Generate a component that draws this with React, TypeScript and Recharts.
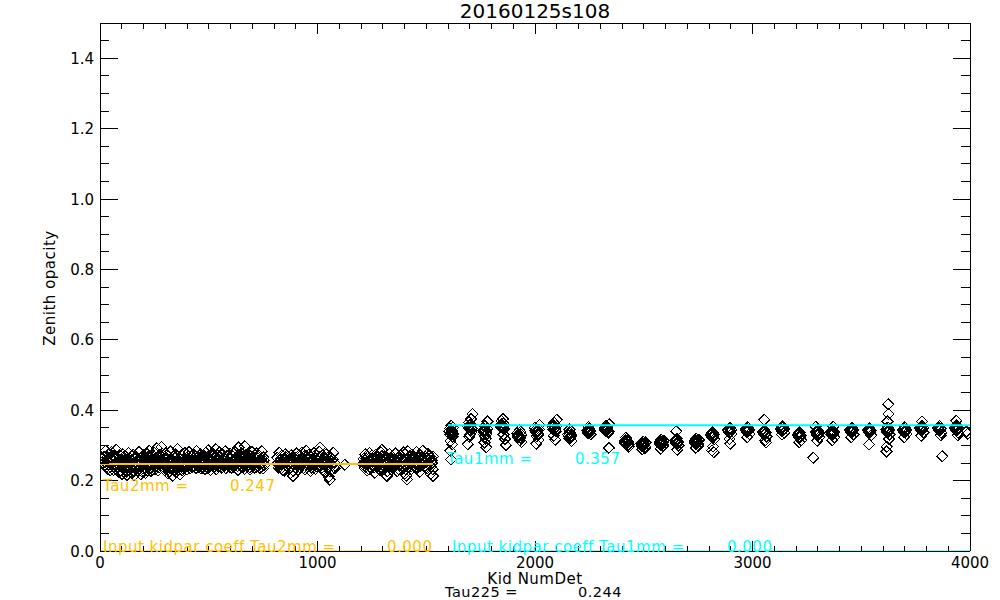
import { ScatterChart, Scatter, XAxis, YAxis } from "recharts";

// 2mm array (Tau2mm), three blocks of kids: [NumDet, zenith opacity]
const tau2mmBlockA: [number, number][] = [
  [20, 0.268], [24, 0.245], [27, 0.285], [31, 0.258], [35, 0.234], [38, 0.275], [42, 0.251], [46, 0.264],
  [49, 0.239], [53, 0.281], [57, 0.256], [61, 0.23], [64, 0.27], [68, 0.247], [72, 0.262], [75, 0.288],
  [79, 0.241], [83, 0.254], [87, 0.225], [90, 0.272], [94, 0.249], [98, 0.261], [101, 0.219], [105, 0.275],
  [109, 0.242], [112, 0.257], [116, 0.231], [120, 0.268], [124, 0.216], [127, 0.252], [131, 0.279], [135, 0.237],
  [138, 0.263], [142, 0.223], [146, 0.256], [150, 0.245], [153, 0.274], [157, 0.215], [161, 0.26], [164, 0.24],
  [168, 0.267], [172, 0.228], [176, 0.253], [179, 0.281], [183, 0.244], [187, 0.218], [190, 0.265], [194, 0.25],
  [198, 0.234], [201, 0.272], [205, 0.257], [209, 0.222], [212, 0.246], [216, 0.276], [220, 0.261], [224, 0.239],
  [227, 0.285], [231, 0.251], [235, 0.227], [238, 0.269], [242, 0.255], [246, 0.243], [250, 0.279], [253, 0.232],
  [257, 0.264], [261, 0.292], [264, 0.248], [268, 0.259], [272, 0.237], [276, 0.273], [279, 0.252], [283, 0.296],
  [287, 0.241], [290, 0.266], [294, 0.254], [298, 0.229], [302, 0.277], [305, 0.245], [309, 0.261], [313, 0.22],
  [316, 0.27], [320, 0.249], [324, 0.283], [328, 0.235], [331, 0.258], [335, 0.214], [339, 0.268], [342, 0.244],
  [346, 0.275], [350, 0.224], [354, 0.256], [357, 0.29], [361, 0.24], [365, 0.263], [368, 0.217], [372, 0.251],
  [376, 0.272], [380, 0.235], [383, 0.26], [387, 0.247], [391, 0.278], [394, 0.239], [398, 0.265], [402, 0.253],
  [406, 0.242], [409, 0.281], [413, 0.258], [417, 0.236], [420, 0.269], [424, 0.249], [428, 0.275], [432, 0.262],
  [435, 0.241], [439, 0.254], [443, 0.284], [446, 0.246], [450, 0.267], [454, 0.239], [458, 0.259], [461, 0.275],
  [465, 0.25], [469, 0.263], [472, 0.237], [476, 0.271], [480, 0.255], [484, 0.244], [487, 0.279], [491, 0.262],
  [495, 0.235], [498, 0.286], [502, 0.253], [506, 0.268], [510, 0.242], [513, 0.259], [517, 0.277], [521, 0.248],
  [524, 0.265], [528, 0.239], [532, 0.289], [536, 0.256], [539, 0.245], [543, 0.271], [547, 0.252], [550, 0.28],
  [554, 0.238], [558, 0.263], [562, 0.249], [565, 0.274], [569, 0.257], [573, 0.241], [576, 0.283], [580, 0.26],
  [584, 0.246], [588, 0.269], [591, 0.253], [595, 0.239], [599, 0.276], [602, 0.262], [606, 0.248], [610, 0.27],
  [613, 0.24], [617, 0.258], [621, 0.281], [625, 0.251], [628, 0.265], [632, 0.242], [636, 0.294], [640, 0.256],
  [643, 0.271], [647, 0.247], [651, 0.277], [654, 0.259], [658, 0.239], [662, 0.267], [666, 0.298], [669, 0.25],
  [673, 0.262], [677, 0.242], [680, 0.275], [684, 0.255], [688, 0.238], [692, 0.27], [695, 0.249], [699, 0.281],
  [703, 0.26], [706, 0.245], [710, 0.273], [714, 0.254], [718, 0.239], [721, 0.278], [725, 0.263], [729, 0.248],
  [732, 0.271], [736, 0.236], [740, 0.259], [744, 0.283], [747, 0.251], [751, 0.266], [755, 0.244],
  [22, 0.252], [29, 0.238], [33, 0.266], [40, 0.244], [47, 0.229], [51, 0.259], [58, 0.27], [63, 0.241],
  [66, 0.255], [73, 0.233], [77, 0.262], [81, 0.248], [85, 0.239], [92, 0.258], [96, 0.228], [103, 0.247],
  [107, 0.266], [114, 0.236], [118, 0.251], [122, 0.226], [129, 0.243], [133, 0.258], [140, 0.233], [144, 0.249],
  [148, 0.222], [155, 0.238], [159, 0.265], [166, 0.231], [170, 0.247], [174, 0.26], [181, 0.235], [185, 0.25],
  [192, 0.226], [196, 0.243], [203, 0.261], [207, 0.236], [214, 0.253], [218, 0.229], [222, 0.268], [229, 0.245],
  [233, 0.258], [240, 0.232], [244, 0.271], [248, 0.25], [255, 0.24], [259, 0.262], [266, 0.229], [270, 0.253],
  [274, 0.266], [281, 0.244], [285, 0.259], [292, 0.233], [296, 0.248], [300, 0.262], [307, 0.238], [311, 0.253],
  [318, 0.227], [322, 0.246], [326, 0.262], [333, 0.24], [337, 0.252], [344, 0.23], [348, 0.265], [352, 0.243],
  [359, 0.256], [363, 0.232], [370, 0.262], [374, 0.245], [378, 0.229], [385, 0.254], [389, 0.237], [396, 0.258],
  [400, 0.231], [404, 0.268], [411, 0.247], [415, 0.235], [422, 0.26], [426, 0.24], [430, 0.254], [437, 0.268],
  [441, 0.236], [448, 0.258], [452, 0.244], [456, 0.272], [463, 0.235], [467, 0.256], [474, 0.245], [478, 0.262],
  [482, 0.233], [489, 0.252], [493, 0.267], [500, 0.242], [504, 0.258], [508, 0.23], [515, 0.27], [519, 0.25],
  [526, 0.263], [530, 0.245], [534, 0.232], [541, 0.26], [545, 0.24], [552, 0.266], [556, 0.25], [560, 0.236],
  [567, 0.264], [571, 0.248], [578, 0.235], [582, 0.27], [586, 0.255], [593, 0.242], [597, 0.26], [604, 0.237],
  [608, 0.254], [612, 0.268], [619, 0.244], [623, 0.262], [630, 0.25], [634, 0.23], [638, 0.272], [645, 0.258],
  [649, 0.241], [656, 0.266], [660, 0.25], [664, 0.233], [671, 0.274], [675, 0.255], [682, 0.244], [686, 0.262],
  [690, 0.232], [697, 0.258], [701, 0.246], [708, 0.265], [712, 0.236], [716, 0.25], [723, 0.27], [727, 0.24],
  [734, 0.257], [738, 0.247], [742, 0.264], [749, 0.234], [753, 0.258],
];

const tau2mmBlockB: [number, number][] = [
  [816, 0.265], [820, 0.244], [824, 0.279], [828, 0.257], [832, 0.234], [836, 0.271], [840, 0.25], [844, 0.262],
  [848, 0.228], [852, 0.275], [856, 0.253], [860, 0.24], [864, 0.268], [868, 0.246], [872, 0.26], [876, 0.222],
  [880, 0.272], [884, 0.249], [888, 0.213], [892, 0.264], [896, 0.255], [900, 0.238], [904, 0.277], [908, 0.251],
  [912, 0.231], [916, 0.267], [920, 0.258], [924, 0.244], [928, 0.28], [932, 0.254], [936, 0.236], [940, 0.269],
  [944, 0.247], [948, 0.285], [952, 0.261], [956, 0.241], [960, 0.273], [964, 0.252], [968, 0.227], [972, 0.266],
  [976, 0.256], [980, 0.245], [984, 0.278], [988, 0.25], [992, 0.233], [996, 0.27], [1000, 0.259], [1004, 0.242],
  [1008, 0.282], [1012, 0.294], [1016, 0.253], [1020, 0.237], [1024, 0.272], [1028, 0.248], [1032, 0.263], [1036, 0.225],
  [1040, 0.275], [1044, 0.251], [1048, 0.24], [1052, 0.211], [1056, 0.203], [1060, 0.266], [1064, 0.256], [1068, 0.243],
  [1072, 0.279], [1076, 0.252], [1080, 0.235], [1126, 0.245],
  [818, 0.25], [822, 0.236], [830, 0.262], [834, 0.246], [842, 0.23], [846, 0.257], [854, 0.266], [858, 0.243],
  [866, 0.255], [870, 0.235], [878, 0.26], [882, 0.24], [890, 0.227], [894, 0.252], [902, 0.265], [906, 0.244],
  [914, 0.256], [918, 0.238], [926, 0.262], [930, 0.248], [938, 0.258], [942, 0.232], [950, 0.27], [954, 0.25],
  [962, 0.262], [966, 0.242], [974, 0.236], [978, 0.26], [986, 0.246], [990, 0.264], [998, 0.24], [1002, 0.255],
  [1010, 0.266], [1014, 0.245], [1022, 0.23], [1026, 0.258], [1034, 0.248], [1038, 0.262], [1046, 0.236], [1050, 0.255],
  [1058, 0.226], [1062, 0.245], [1070, 0.26], [1074, 0.238], [1078, 0.25],
];

const tau2mmBlockC: [number, number][] = [
  [1211, 0.261], [1215, 0.242], [1219, 0.275], [1223, 0.252], [1227, 0.229], [1231, 0.267], [1235, 0.248], [1239, 0.279],
  [1243, 0.256], [1247, 0.235], [1251, 0.271], [1255, 0.244], [1259, 0.262], [1263, 0.222], [1267, 0.273], [1271, 0.251],
  [1275, 0.239], [1279, 0.266], [1283, 0.257], [1287, 0.245], [1291, 0.281], [1295, 0.288], [1299, 0.253], [1303, 0.234],
  [1307, 0.269], [1311, 0.249], [1315, 0.215], [1319, 0.213], [1323, 0.263], [1327, 0.242], [1331, 0.276], [1335, 0.254],
  [1339, 0.231], [1343, 0.268], [1347, 0.247], [1351, 0.26], [1355, 0.239], [1359, 0.277], [1363, 0.252], [1367, 0.226],
  [1371, 0.265], [1375, 0.244], [1379, 0.257], [1383, 0.271], [1387, 0.235], [1391, 0.25], [1395, 0.28], [1399, 0.262],
  [1403, 0.22], [1407, 0.241], [1411, 0.203], [1415, 0.283], [1419, 0.255], [1423, 0.269], [1427, 0.247], [1431, 0.232],
  [1435, 0.274], [1439, 0.258], [1443, 0.242], [1447, 0.266], [1451, 0.251], [1455, 0.281], [1459, 0.237], [1463, 0.263],
  [1467, 0.254], [1471, 0.225], [1475, 0.272], [1479, 0.246], [1483, 0.285], [1487, 0.259], [1491, 0.24], [1495, 0.268],
  [1499, 0.252], [1503, 0.234], [1507, 0.276], [1511, 0.261], [1515, 0.244], [1519, 0.219], [1523, 0.265], [1527, 0.25],
  [1531, 0.269], [1531, 0.213],
  [1213, 0.25], [1217, 0.236], [1225, 0.262], [1229, 0.246], [1237, 0.232], [1241, 0.258], [1249, 0.244], [1253, 0.262],
  [1261, 0.238], [1265, 0.255], [1273, 0.266], [1277, 0.245], [1285, 0.232], [1289, 0.26], [1297, 0.27], [1301, 0.244],
  [1309, 0.258], [1313, 0.236], [1321, 0.226], [1325, 0.252], [1333, 0.242], [1337, 0.265], [1345, 0.255], [1349, 0.235],
  [1357, 0.26], [1361, 0.244], [1369, 0.25], [1373, 0.232], [1381, 0.262], [1385, 0.248], [1393, 0.238], [1397, 0.258],
  [1405, 0.232], [1409, 0.214], [1413, 0.262], [1417, 0.246], [1425, 0.258], [1429, 0.24], [1437, 0.25], [1441, 0.266],
  [1449, 0.236], [1453, 0.26], [1461, 0.248], [1465, 0.27], [1473, 0.242], [1477, 0.258], [1485, 0.265], [1489, 0.25],
  [1497, 0.236], [1501, 0.262], [1509, 0.248], [1513, 0.268], [1521, 0.24], [1525, 0.256], [1529, 0.232],
];

// 1mm array (Tau1mm), kids come in small groups
const tau1mmKids: [number, number][] = [
  [1608, 0.348], [1612, 0.335], [1615, 0.356], [1618, 0.343], [1621, 0.325], [1624, 0.351], [1612, 0.313], [1619, 0.303], [1610, 0.285], [1614, 0.26],
  [1606, 0.34], [1610, 0.33], [1614, 0.345], [1617, 0.336], [1620, 0.34], [1623, 0.332],
  [1692, 0.353], [1696, 0.365], [1700, 0.346], [1704, 0.359], [1708, 0.338], [1712, 0.389], [1698, 0.325], [1690, 0.303], [1706, 0.375],
  [1694, 0.35], [1698, 0.357], [1702, 0.352], [1705, 0.343], [1709, 0.348], [1700, 0.33],
  [1762, 0.343], [1766, 0.331], [1770, 0.355], [1774, 0.319], [1778, 0.338], [1782, 0.368], [1768, 0.308], [1775, 0.295],
  [1764, 0.337], [1768, 0.345], [1772, 0.34], [1776, 0.332], [1780, 0.347], [1770, 0.325],
  [1842, 0.358], [1846, 0.37], [1850, 0.351], [1854, 0.363], [1858, 0.345], [1852, 0.375], [1862, 0.318], [1866, 0.301], [1856, 0.331],
  [1844, 0.352], [1848, 0.36], [1852, 0.355], [1856, 0.348], [1860, 0.358],
  [1918, 0.335], [1922, 0.323], [1926, 0.329], [1930, 0.315], [1934, 0.338], [1938, 0.309], [1928, 0.344],
  [1920, 0.33], [1924, 0.325], [1928, 0.335], [1932, 0.322], [1936, 0.33],
  [2000, 0.35], [2004, 0.338], [2008, 0.326], [2012, 0.344], [2016, 0.315], [2020, 0.358], [2006, 0.305], [2014, 0.332],
  [2002, 0.343], [2006, 0.335], [2010, 0.34], [2014, 0.33], [2018, 0.345],
  [2080, 0.358], [2084, 0.346], [2088, 0.364], [2092, 0.351], [2096, 0.34], [2100, 0.373], [2086, 0.328], [2094, 0.316],
  [2082, 0.352], [2086, 0.357], [2090, 0.348], [2094, 0.344], [2098, 0.355],
  [2152, 0.331], [2156, 0.319], [2160, 0.338], [2164, 0.325], [2168, 0.313], [2158, 0.345],
  [2154, 0.326], [2158, 0.333], [2162, 0.32], [2166, 0.329],
  [2240, 0.343], [2244, 0.335], [2248, 0.348], [2252, 0.34], [2256, 0.332], [2246, 0.352],
  [2242, 0.34], [2246, 0.344], [2250, 0.336], [2254, 0.342],
  [2320, 0.35], [2324, 0.342], [2328, 0.356], [2332, 0.346], [2336, 0.336], [2342, 0.36], [2340, 0.293],
  [2322, 0.347], [2326, 0.351], [2330, 0.342], [2334, 0.349], [2338, 0.34],
  [2412, 0.313], [2416, 0.305], [2420, 0.318], [2424, 0.301], [2428, 0.31], [2432, 0.296], [2418, 0.323],
  [2414, 0.31], [2418, 0.314], [2422, 0.306], [2426, 0.312], [2430, 0.302],
  [2488, 0.305], [2492, 0.297], [2496, 0.311], [2500, 0.3], [2504, 0.292], [2508, 0.308], [2494, 0.289],
  [2490, 0.302], [2494, 0.306], [2498, 0.298], [2502, 0.304], [2506, 0.296],
  [2572, 0.31], [2576, 0.302], [2580, 0.316], [2584, 0.305], [2588, 0.297], [2592, 0.313], [2578, 0.291],
  [2574, 0.306], [2578, 0.31], [2582, 0.302], [2586, 0.308], [2590, 0.3],
  [2644, 0.313], [2648, 0.305], [2652, 0.319], [2656, 0.308], [2660, 0.3], [2650, 0.34], [2654, 0.288],
  [2646, 0.31], [2650, 0.314], [2654, 0.305], [2658, 0.31],
  [2734, 0.313], [2738, 0.305], [2742, 0.319], [2746, 0.309], [2750, 0.299], [2754, 0.315], [2740, 0.293],
  [2736, 0.31], [2740, 0.314], [2744, 0.305], [2748, 0.31], [2752, 0.304],
  [2808, 0.331], [2812, 0.323], [2816, 0.337], [2820, 0.327], [2824, 0.318], [2818, 0.297], [2814, 0.285], [2822, 0.281],
  [2810, 0.328], [2814, 0.332], [2818, 0.324], [2822, 0.33],
  [2888, 0.345], [2892, 0.337], [2896, 0.35], [2900, 0.341], [2904, 0.332], [2894, 0.318], [2898, 0.305],
  [2890, 0.342], [2894, 0.346], [2898, 0.338], [2902, 0.344],
  [2970, 0.346], [2974, 0.338], [2978, 0.351], [2982, 0.342], [2986, 0.332], [2976, 0.323],
  [2972, 0.342], [2976, 0.347], [2980, 0.34], [2984, 0.345],
  [3048, 0.338], [3052, 0.331], [3056, 0.344], [3060, 0.335], [3064, 0.325], [3054, 0.373], [3058, 0.315], [3062, 0.309],
  [3050, 0.335], [3054, 0.34], [3058, 0.332], [3062, 0.337],
  [3130, 0.348], [3134, 0.341], [3138, 0.354], [3142, 0.345], [3146, 0.336], [3136, 0.331],
  [3132, 0.345], [3136, 0.35], [3140, 0.342], [3144, 0.347],
  [3208, 0.331], [3212, 0.323], [3216, 0.337], [3220, 0.325], [3224, 0.315], [3214, 0.309],
  [3210, 0.328], [3214, 0.332], [3218, 0.322], [3222, 0.329],
  [3292, 0.338], [3296, 0.33], [3300, 0.343], [3304, 0.333], [3308, 0.323], [3298, 0.313], [3290, 0.353], [3280, 0.265],
  [3294, 0.335], [3298, 0.34], [3302, 0.33], [3306, 0.336],
  [3360, 0.339], [3364, 0.331], [3368, 0.344], [3372, 0.353], [3376, 0.323], [3366, 0.315],
  [3362, 0.336], [3366, 0.341], [3370, 0.332], [3374, 0.338],
  [3448, 0.345], [3452, 0.337], [3456, 0.35], [3460, 0.341], [3464, 0.331], [3454, 0.323],
  [3450, 0.342], [3454, 0.346], [3458, 0.338], [3462, 0.344],
  [3530, 0.345], [3534, 0.337], [3538, 0.35], [3542, 0.34], [3546, 0.329], [3536, 0.303],
  [3532, 0.342], [3536, 0.346], [3540, 0.338], [3544, 0.343],
  [3614, 0.346], [3618, 0.338], [3622, 0.351], [3626, 0.341], [3630, 0.331], [3624, 0.417], [3626, 0.389], [3620, 0.368], [3618, 0.296], [3616, 0.283], [3628, 0.318],
  [3616, 0.343], [3620, 0.347], [3624, 0.339], [3628, 0.344],
  [3692, 0.346], [3696, 0.338], [3700, 0.351], [3704, 0.342], [3708, 0.332], [3698, 0.323],
  [3694, 0.343], [3698, 0.347], [3702, 0.339], [3706, 0.344],
  [3770, 0.351], [3774, 0.343], [3778, 0.356], [3782, 0.347], [3786, 0.337], [3780, 0.368], [3776, 0.328],
  [3772, 0.348], [3776, 0.352], [3780, 0.344], [3784, 0.35],
  [3852, 0.35], [3856, 0.343], [3860, 0.355], [3864, 0.346], [3868, 0.336], [3872, 0.269], [3866, 0.329],
  [3854, 0.347], [3858, 0.351], [3862, 0.343], [3866, 0.348],
  [3930, 0.351], [3934, 0.343], [3938, 0.356], [3942, 0.347], [3946, 0.336], [3936, 0.37], [3944, 0.329],
  [3932, 0.348], [3936, 0.352], [3940, 0.344], [3944, 0.35],
  [3984, 0.34], [3990, 0.333],
];

// fitted levels and kidpar coefficients
const tau2mm = 0.247;
const tau1mm = 0.357;
const tau225 = 0.244;
const kidparTau2mm = 0.0;
const kidparTau1mm = 0.0;
const tau2mmRange = [0, 1531];
const tau1mmRange = [1600, 4000];

const xTicks = [
  0, 100, 200, 300, 400, 500, 600, 700, 800, 900, 1000, 1100, 1200, 1300, 1400, 1500, 1600, 1700, 1800, 1900, 2000,
  2100, 2200, 2300, 2400, 2500, 2600, 2700, 2800, 2900, 3000, 3100, 3200, 3300, 3400, 3500, 3600, 3700, 3800, 3900, 4000,
];
const xMajorTicks = [0, 1000, 2000, 3000, 4000];
const xTickLabels = ["0", "1000", "2000", "3000", "4000"];

const yTicks = [
  0, 0.05, 0.1, 0.15, 0.2, 0.25, 0.3, 0.35, 0.4, 0.45, 0.5, 0.55, 0.6, 0.65, 0.7, 0.75, 0.8, 0.85, 0.9, 0.95, 1.0,
  1.05, 1.1, 1.15, 1.2, 1.25, 1.3, 1.35, 1.4, 1.45, 1.5,
];
const yMajorTicks = [0, 0.2, 0.4, 0.6, 0.8, 1.0, 1.2, 1.4];
const yTickLabels = ["0.0", "0.2", "0.4", "0.6", "0.8", "1.0", "1.2", "1.4"];

const ORANGE = "#FFC000";
const CYAN = "#00FFFF";
const FONT = "'DejaVu Sans', sans-serif";

const toPoints = (arr: [number, number][]) => arr.map(([x, y]) => ({ x, y }));
const kids2mm = [...toPoints(tau2mmBlockA), ...toPoints(tau2mmBlockB), ...toPoints(tau2mmBlockC)];
const kids1mm = toPoints(tau1mmKids);
const level = (range: number[], y: number) => [{ x: range[0], y }, { x: range[1], y }];

const majorIndex = (list: number[], v: number) => list.findIndex((m) => Math.abs(m - v) < 1e-6);

function Diamond(props: any) {
  const { cx, cy } = props;
  if (cx == null || cy == null) return <g />;
  const r = 5.5;
  return (
    <path
      d={`M${cx},${cy - r}L${cx + r},${cy}L${cx},${cy + r}L${cx - r},${cy}Z`}
      fill="none"
      stroke="#000"
      strokeWidth={1}
      shapeRendering="crispEdges"
    />
  );
}

const NoDot = () => <g />;

function BottomTick(props: any) {
  const { x, y, payload } = props;
  const i = majorIndex(xMajorTicks, payload.value);
  return (
    <g>
      <line x1={x} y1={y} x2={x} y2={y - (i >= 0 ? 10.5 : 5.5)} stroke="#000" shapeRendering="crispEdges" />
      {i >= 0 && (
        <text x={x} y={y + 17} textAnchor="middle" fontFamily={FONT} fontSize={15} fill="#000">
          {xTickLabels[i]}
        </text>
      )}
    </g>
  );
}

function TopTick(props: any) {
  const { x, y, payload } = props;
  const i = majorIndex(xMajorTicks, payload.value);
  return <line x1={x} y1={y} x2={x} y2={y + (i >= 0 ? 10.5 : 5.5)} stroke="#000" shapeRendering="crispEdges" />;
}

function LeftTick(props: any) {
  const { x, y, payload } = props;
  const i = majorIndex(yMajorTicks, payload.value);
  return (
    <g>
      <line x1={x} y1={y} x2={x + (i >= 0 ? 17.5 : 9)} y2={y} stroke="#000" shapeRendering="crispEdges" />
      {i >= 0 && (
        <text x={x - 6} y={y + 5.5} textAnchor="end" fontFamily={FONT} fontSize={15} fill="#000">
          {yTickLabels[i]}
        </text>
      )}
    </g>
  );
}

function RightTick(props: any) {
  const { x, y, payload } = props;
  const i = majorIndex(yMajorTicks, payload.value);
  return <line x1={x} y1={y} x2={x - (i >= 0 ? 17.5 : 9)} y2={y} stroke="#000" shapeRendering="crispEdges" />;
}

const txt = { fontFamily: FONT, fontSize: 15, letterSpacing: 0.5 } as const;
const axisLine = { stroke: "#000", shapeRendering: "crispEdges" };

export default function App() {
  return (
    <div style={{ position: "absolute", left: 0, top: 0, width: 1000, height: 600, background: "#fff" }}>
      <ScatterChart width={1000} height={600} margin={{ top: 22, right: 29, bottom: 48, left: 99 }}>
        <XAxis
          xAxisId="b"
          type="number"
          dataKey="x"
          domain={[0, 4000]}
          ticks={xTicks}
          interval={0}
          height={1}
          tickSize={0}
          tickMargin={0}
          tickLine={false}
          tick={BottomTick}
          axisLine={axisLine}
          allowDataOverflow
        />
        <XAxis
          xAxisId="t"
          orientation="top"
          type="number"
          dataKey="x"
          domain={[0, 4000]}
          ticks={xTicks}
          interval={0}
          height={1}
          tickSize={0}
          tickMargin={0}
          tickLine={false}
          tick={TopTick}
          axisLine={axisLine}
          allowDataOverflow
        />
        <YAxis
          yAxisId="l"
          type="number"
          dataKey="y"
          domain={[0, 1.5]}
          ticks={yTicks}
          interval={0}
          width={1}
          tickSize={0}
          tickMargin={0}
          tickLine={false}
          tick={LeftTick}
          axisLine={axisLine}
          allowDataOverflow
        />
        <YAxis
          yAxisId="r"
          orientation="right"
          type="number"
          dataKey="y"
          domain={[0, 1.5]}
          ticks={yTicks}
          interval={0}
          width={1}
          tickSize={0}
          tickMargin={0}
          tickLine={false}
          tick={RightTick}
          axisLine={axisLine}
          allowDataOverflow
        />
        <Scatter xAxisId="b" yAxisId="l" data={kids2mm} shape={Diamond} isAnimationActive={false} />
        <Scatter xAxisId="b" yAxisId="l" data={kids1mm} shape={Diamond} isAnimationActive={false} />
        <Scatter
          xAxisId="b"
          yAxisId="l"
          data={level(tau2mmRange, tau2mm)}
          line={{ stroke: ORANGE, strokeWidth: 2 }}
          shape={NoDot}
          isAnimationActive={false}
        />
        <Scatter
          xAxisId="b"
          yAxisId="l"
          data={level(tau1mmRange, tau1mm)}
          line={{ stroke: CYAN, strokeWidth: 2 }}
          shape={NoDot}
          isAnimationActive={false}
        />
        <Scatter
          xAxisId="b"
          yAxisId="l"
          data={level(tau2mmRange, kidparTau2mm)}
          line={{ stroke: ORANGE, strokeWidth: 1 }}
          shape={NoDot}
          isAnimationActive={false}
        />
        <Scatter
          xAxisId="b"
          yAxisId="l"
          data={level(tau1mmRange, kidparTau1mm)}
          line={{ stroke: CYAN, strokeWidth: 1 }}
          shape={NoDot}
          isAnimationActive={false}
        />
      </ScatterChart>
      <svg width={1000} height={600} style={{ position: "absolute", left: 0, top: 0, pointerEvents: "none" }}>
        <text x={535} y={18} textAnchor="middle" fontFamily={FONT} fontSize={20} fill="#000">
          20160125s108
        </text>
        <text transform="translate(55,288) rotate(-90)" textAnchor="middle" {...txt} fill="#000">
          Zenith opacity
        </text>
        <text x={535} y={584} textAnchor="middle" {...txt} fill="#000">
          Kid NumDet
        </text>
        <text x={445} y={597} {...txt} fontSize={14.5} fill="#000">Tau225 =</text>
        <text x={578} y={597} {...txt} fontSize={14.5} fill="#000">{tau225.toFixed(3)}</text>

        <text x={103} y={491} {...txt} fill={ORANGE}>Tau2mm =</text>
        <text x={230} y={491} {...txt} fill={ORANGE}>{tau2mm.toFixed(3)}</text>
        <text x={447} y={464} {...txt} fill={CYAN}>Tau1mm =</text>
        <text x={575} y={464} {...txt} fill={CYAN}>{tau1mm.toFixed(3)}</text>

        <text x={103} y={552} {...txt} fill={ORANGE}>Input kidpar coeff Tau2mm =</text>
        <text x={387} y={552} {...txt} fill={ORANGE}>{kidparTau2mm.toFixed(3)}</text>
        <text x={452} y={552} {...txt} fill={CYAN}>Input kidpar coeff Tau1mm =</text>
        <text x={727} y={552} {...txt} fill={CYAN}>{kidparTau1mm.toFixed(3)}</text>
      </svg>
    </div>
  );
}
